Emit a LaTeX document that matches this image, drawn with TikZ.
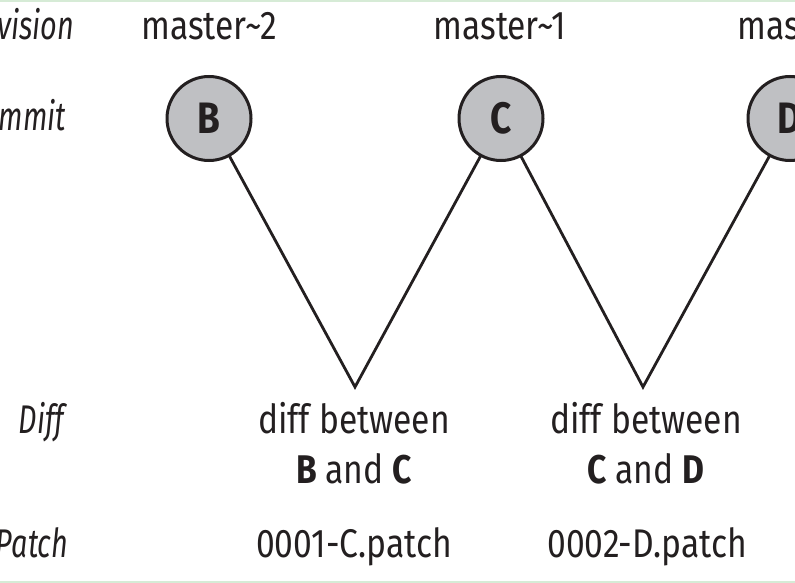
\documentclass[tikz,border=0pt]{standalone}
\usepackage{fontspec}
\setmainfont[FakeStretch=0.84]{Fira Sans}
\newfontfamily\labelfont[FakeStretch=0.72]{Fira Sans}
\definecolor{ink}{HTML}{231F20}
\definecolor{nodegray}{HTML}{BFC0C3}
\definecolor{edge}{HTML}{D6EBD6}
\begin{document}
\begin{tikzpicture}[x=1pt,y=-1pt,
  every node/.style={inner sep=0pt,outer sep=0pt,text=ink},
  txt/.style={font=\fontsize{40}{44}\selectfont,anchor=base},
  rowlabel/.style={font=\labelfont\fontsize{40}{44}\selectfont\itshape,anchor=base east},
  commit/.style={circle,draw=ink,line width=3pt,fill=nodegray,minimum size=84pt,
    font=\fontsize{44}{46}\selectfont\bfseries},
  link/.style={draw=ink,line width=2.8pt}]
\useasboundingbox (0,0) rectangle (795,583);
\clip (0,0) rectangle (795,583);
\fill[edge] (0,0) rectangle (795,2.5);
\fill[edge] (0,581) rectangle (795,583);
% row labels (cut at the left edge)
\node[rowlabel] (lrev) at (74,40) {Revision};
\node[rowlabel] (lcom) at (66,131) {Commit};
\node[rowlabel] (ldiff) at (64,433) {Diff};
\node[rowlabel] (lpat) at (68,557) {Patch};
% revisions
\node[txt] (r2) at (209,40) {master\textasciitilde 2};
\node[txt] (r1) at (500,40) {master\textasciitilde 1};
\node[txt] (r0) at (790,40) {master};
% commits
\node[commit] (B) at (209,118.5) {B};
\node[commit] (C) at (501,118.5) {C};
\node[commit] (D) at (790,118.5) {D};
\coordinate (v1) at (355,387);
\coordinate (v2) at (643,387);
\draw[link] (B) -- (v1) -- (C);
\draw[link] (C) -- (v2) -- (D);
% diffs
\node[txt] (d1a) at (354,433) {diff between};
\node[txt] (d1b) at (354,483) {\textbf{B} and \textbf{C}};
\node[txt] (d2a) at (646,433) {diff between};
\node[txt] (d2b) at (646,483) {\textbf{C} and \textbf{D}};
% patches
\node[txt] (p1) at (354,557) {0001-C.patch};
\node[txt] (p2) at (647,557) {0002-D.patch};
\end{tikzpicture}
\end{document}
